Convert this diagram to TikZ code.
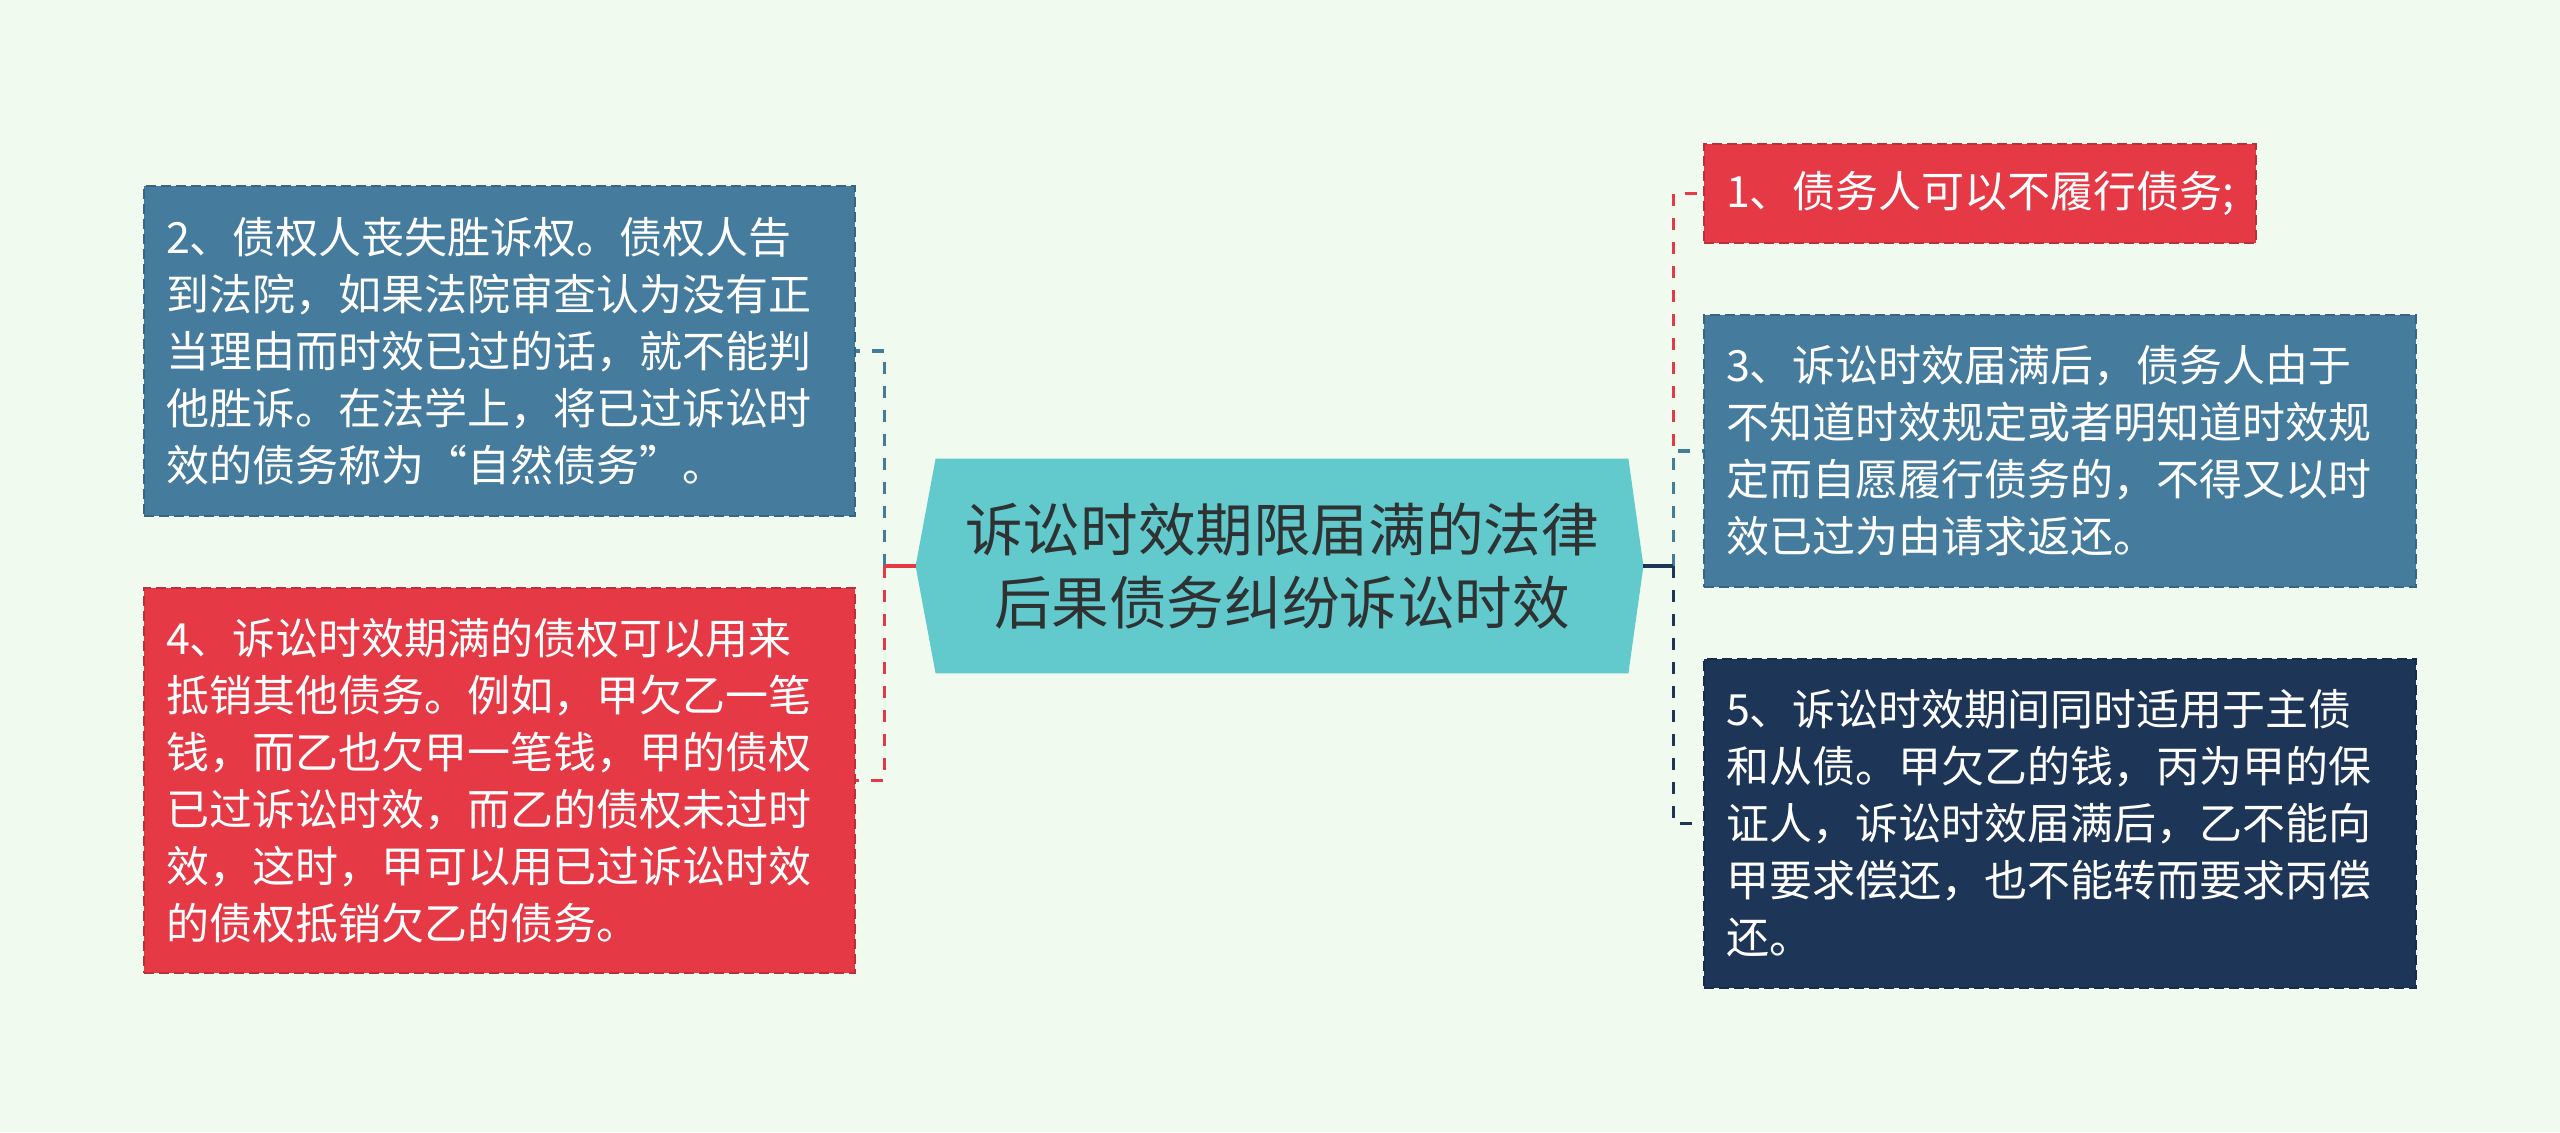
\documentclass[tikz,border=0pt]{standalone}
\usepackage{fontspec}
\setmainfont{Noto Sans CJK SC}
\usetikzlibrary{backgrounds}
\definecolor{bgc}{HTML}{F1FAEE}
\definecolor{cred}{HTML}{E63946}
\definecolor{cblue}{HTML}{457B9D}
\definecolor{cnavy}{HTML}{1D3557}
\definecolor{cteal}{HTML}{62C9CC}
\definecolor{ctext}{HTML}{2E3233}
\begin{document}
\begin{tikzpicture}[x=0.5pt,y=-0.5pt,
  box/.style={rectangle, draw=#1!82!black, fill=#1, dash pattern=on 5pt off 2.5pt,
    line width=0.9pt, text=white, align=left, inner xsep=11pt, inner ysep=0pt,
    font=\fontsize{21.5pt}{28.5pt}\selectfont},
  conn/.style={draw=#1, line width=1.75pt, dash pattern=on 6pt off 6pt},
  stub/.style={draw=#1, line width=1.75pt},
  rootbox/.style={rectangle, text=ctext, align=center, inner sep=0pt,
    minimum width=346pt, minimum height=107pt,
    font=\fontsize{28.8pt}{36.7pt}\selectfont}
]
\useasboundingbox (0,0) rectangle (2560,1132);

% central node
\node[rootbox] (root) at (1282,566) {诉讼时效期限届满的法律\\后果债务纠纷诉讼时效};
\coordinate (rootL) at ([xshift=-10pt]root.west);
\coordinate (rootR) at ([xshift=7.5pt]root.east);
\coordinate (lj) at ([xshift=-15.5pt]rootL);
\coordinate (rj) at ([xshift=15pt]rootR);

% child boxes
\node[box=cred, text width=254pt, minimum height=49.5pt] (b1) at (1980,193.5)
  {1、债务人可以不履行债务;};
\node[box=cblue, text width=333.5pt, minimum height=165pt] (b2) at (499.5,351)
  {2、债权人丧失胜诉权。债权人告\\到法院，如果法院审查认为没有正\\当理由而时效已过的话，就不能判\\他胜诉。在法学上，将已过诉讼时\\效的债务称为“自然债务”。};
\node[box=cblue, text width=334pt, minimum height=136pt] (b3) at (2060,451)
  {3、诉讼时效届满后，债务人由于\\不知道时效规定或者明知道时效规\\定而自愿履行债务的，不得又以时\\效已过为由请求返还。};
\node[box=cred, text width=333.5pt, minimum height=192.5pt] (b4) at (499.5,780.5)
  {4、诉讼时效期满的债权可以用来\\抵销其他债务。例如，甲欠乙一笔\\钱，而乙也欠甲一笔钱，甲的债权\\已过诉讼时效，而乙的债权未过时\\效，这时，甲可以用已过诉讼时效\\的债权抵销欠乙的债务。};
\node[box=cnavy, text width=334pt, minimum height=164.5pt] (b5) at (2060,823.5)
  {5、诉讼时效期间同时适用于主债\\和从债。甲欠乙的钱，丙为甲的保\\证人，诉讼时效届满后，乙不能向\\甲要求偿还，也不能转而要求丙偿\\还。};

% connectors left
\draw[conn=cblue] (lj) |- (b2.east);
\draw[conn=cred] (lj) |- (b4.east);
\draw[stub=cred] (rootL) -- (lj);
% connectors right
\draw[conn=cred] (rj) |- (b1.west);
\draw[conn=cblue] (rj) |- (b3.west);
\draw[conn=cnavy] (rj) |- (b5.west);
\draw[stub=cnavy] (rootR) -- (rj);

\begin{pgfonlayer}{background}
\fill[bgc] (0,0) rectangle (2560,1132);
\fill[cteal] (root.north west) -- (rootL) -- (root.south west) -- (root.south east)
  -- (rootR) -- (root.north east) -- cycle;
\end{pgfonlayer}
\end{tikzpicture}
\end{document}
